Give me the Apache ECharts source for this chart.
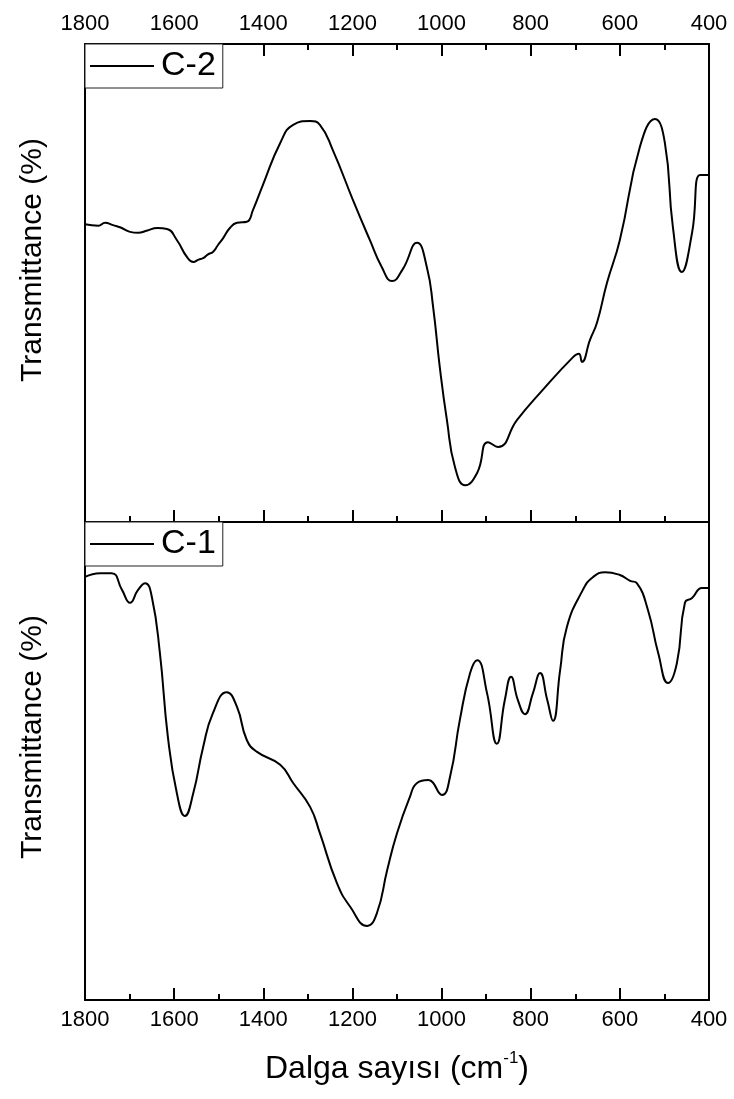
<!DOCTYPE html>
<html>
<head>
<meta charset="utf-8">
<title>FTIR C-1 / C-2</title>
<script src="https://cdn.jsdelivr.net/npm/echarts@6/dist/echarts.min.js"></script>
<style>
  html, body { margin: 0; padding: 0; background: #fff; }
  #chart { width: 734px; height: 1099px; }
</style>
</head>
<body>
<div id="chart"></div>
<script>
// Wavenumber axis ticks (cm-1)
const axisMin = 400;
const axisMax = 1800;
const axisStep = 200;

// C-2 spectrum: wavenumber (cm-1) and transmittance (arbitrary %)
const c2Wavenumber = [1800, 1770, 1755, 1737, 1720, 1699, 1681, 1660, 1638, 1616, 1594, 1571, 1557,
  1545, 1535, 1524, 1513, 1502, 1490, 1475, 1459, 1437, 1423, 1401, 1362, 1333, 1295, 1273, 1244,
  1199, 1161, 1134, 1111, 1087, 1055, 1033, 1019, 1004, 988, 970, 947, 920, 896, 873, 831, 779,
  705, 692, 685, 667, 651, 629, 600, 555, 521, 499, 481, 461, 438, 420, 402, 400];
const c2Transmittance = [62.3, 62.0, 62.6, 62.1, 61.6, 60.7, 60.5, 61.0, 61.5, 61.3, 59.0, 55.4, 54.4,
  54.9, 55.2, 56.0, 56.5, 57.9, 59.4, 61.5, 62.6, 62.8, 65.3, 70.5, 79.3, 83.1, 83.9, 83.1, 77.8,
  67.4, 59.0, 53.3, 50.4, 52.9, 58.4, 53.3, 45.0, 32.4, 21.3, 11.5, 7.7, 10.3, 16.7, 15.7, 21.3, 27.0,
  34.5, 35.2, 33.5, 38.1, 41.8, 50.0, 59.0, 78.5, 84.3, 79.3, 61.7, 52.3, 60.5, 72.6, 72.6, 72.6];

// C-1 spectrum: wavenumber (cm-1) and transmittance (arbitrary %)
const c1Wavenumber = [1800, 1766, 1740, 1717, 1699, 1681, 1665, 1650, 1632, 1614, 1594, 1576, 1557,
  1535, 1513, 1482, 1459, 1437, 1414, 1362, 1333, 1295, 1273, 1235, 1205, 1167, 1145, 1122, 1100,
  1071, 1055, 1030, 999, 981, 959, 936, 920, 898, 876, 858, 844, 829, 813, 795, 779, 763, 750, 734,
  719, 683, 660, 633, 600, 577, 562, 537, 514, 492, 472, 454, 438, 416, 402, 400];
const c1Transmittance = [88.5, 89.3, 89.3, 85.8, 83.1, 85.8, 87.2, 84.3, 72.6, 55.0, 43.3, 38.5, 43.3,
  52.9, 60.0, 64.4, 61.3, 54.4, 51.9, 49.2, 45.4, 40.4, 34.9, 24.5, 19.5, 15.5, 18.2, 27.2, 34.9,
  42.5, 45.4, 46.0, 42.9, 46.7, 58.6, 68.4, 71.1, 64.2, 53.6, 62.8, 67.6, 62.8, 59.8, 64.2, 68.4, 62.8,
  58.4, 69.0, 78.0, 85.8, 88.5, 89.5, 88.9, 87.7, 87.2, 81.6, 72.6, 66.3, 70.5, 83.1, 84.1, 86.2, 86.2, 86.2];

const seriesNames = ['C-2', 'C-1'];
const xTitle = '{t|Dalga sayısı (cm}{s|-1}{t|)}';
const yTitle = 'Transmittance (%)';

const pairs = (xs, ys) => xs.map((x, i) => [x, ys[i]]);

const FONT = '"Liberation Sans", Arial, sans-serif';
const BLACK = '#000';

function xAxisDef(gridIndex, position, showLabels, showTicks) {
  return {
    type: 'value', gridIndex, position,
    min: axisMin, max: axisMax, interval: axisStep, inverse: true,
    axisLine: { show: true, onZero: false, lineStyle: { color: BLACK, width: 2 } },
    axisTick: { show: showTicks, inside: true, length: 12, lineStyle: { color: BLACK, width: 2 } },
    minorTick: { show: showTicks, splitNumber: 2, length: 6, lineStyle: { color: BLACK, width: 2 } },
    axisLabel: { show: showLabels, color: BLACK, fontFamily: FONT, fontSize: 22, margin: 9,
      formatter: v => String(v) },
    splitLine: { show: false }
  };
}
function yAxisDef(gridIndex, position) {
  return {
    type: 'value', gridIndex, position, min: 0, max: 100,
    axisLine: { show: true, onZero: false, lineStyle: { color: BLACK, width: 2 } },
    axisTick: { show: false }, axisLabel: { show: false }, splitLine: { show: false }
  };
}
function legendDef(name, top) {
  return {
    data: [{ name, icon: 'rect' }], left: 85, top, orient: 'horizontal',
    itemWidth: 64, itemHeight: 2, padding: [4, 7, 4, 5],
    borderColor: '#222', borderWidth: 1, borderRadius: 0, backgroundColor: '#fff',
    selectedMode: false,
    itemStyle: { color: BLACK },
    textStyle: { color: BLACK, fontFamily: FONT, fontSize: 34, lineHeight: 36, padding: [0, 0, 0, 2] }
  };
}
function lineSeries(name, idx, data) {
  return {
    name, type: 'line', xAxisIndex: idx * 2, yAxisIndex: idx * 2, data,
    symbol: 'none', smooth: 0.5,
    lineStyle: { color: BLACK, width: 2 }, itemStyle: { color: BLACK }, z: 5
  };
}

const chart = echarts.init(document.getElementById('chart'), null, { renderer: 'canvas' });
chart.setOption({
  animation: false,
  backgroundColor: '#fff',
  grid: [
    { left: 85, top: 44, width: 624, height: 478, outerBoundsMode: 'none', containLabel: false },
    { left: 85, top: 522, width: 624, height: 478, outerBoundsMode: 'none', containLabel: false }
  ],
  xAxis: [
    xAxisDef(0, 'top', true, true),
    xAxisDef(0, 'bottom', false, true),
    xAxisDef(1, 'top', false, false),
    Object.assign(xAxisDef(1, 'bottom', true, true), {
      name: xTitle, nameLocation: 'middle', nameGap: 50,
      nameTextStyle: {
        rich: {
          t: { fontFamily: FONT, fontSize: 32, color: BLACK, lineHeight: 38 },
          s: { fontFamily: FONT, fontSize: 17, color: BLACK, lineHeight: 38, verticalAlign: 'top', padding: [0, 0, 19, 0] }
        }
      }
    })
  ],
  yAxis: [yAxisDef(0, 'left'), yAxisDef(0, 'right'), yAxisDef(1, 'left'), yAxisDef(1, 'right')],
  legend: [legendDef(seriesNames[0], 44), legendDef(seriesNames[1], 522)],
  graphic: [
    { type: 'text', x: 33, y: 260, rotation: Math.PI / 2,
      style: { text: yTitle, fill: BLACK, font: '30px ' + FONT, textAlign: 'center', textVerticalAlign: 'middle' } },
    { type: 'text', x: 33, y: 737, rotation: Math.PI / 2,
      style: { text: yTitle, fill: BLACK, font: '30px ' + FONT, textAlign: 'center', textVerticalAlign: 'middle' } }
  ],
  series: [
    lineSeries(seriesNames[0], 0, pairs(c2Wavenumber, c2Transmittance)),
    lineSeries(seriesNames[1], 1, pairs(c1Wavenumber, c1Transmittance))
  ]
});
</script>
</body>
</html>
